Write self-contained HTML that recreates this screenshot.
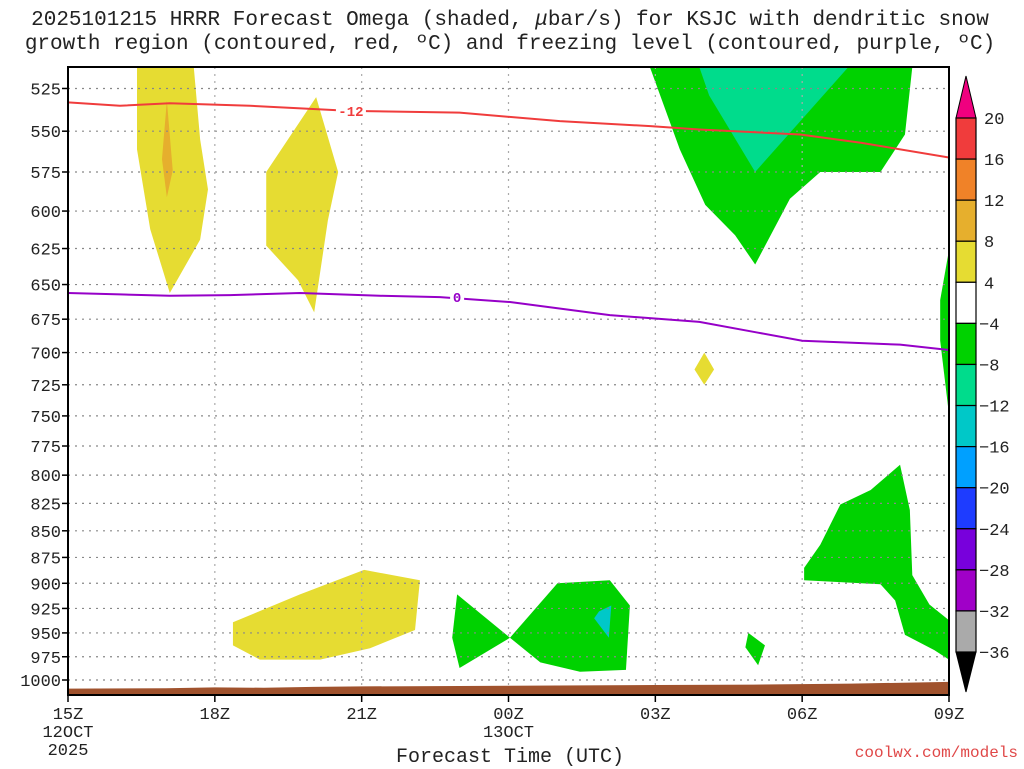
<!DOCTYPE html>
<html><head><meta charset="utf-8"><style>
body{margin:0;background:#fff;}
svg{display:block;font-family:"Liberation Mono","DejaVu Sans Mono",monospace;}
</style></head><body>
<svg id="c" width="1024" height="768" viewBox="0 0 1024 768"></svg>
<script>
const pLevels=[525,550,575,600,625,650,675,700,725,750,775,800,825,850,875,900,925,950,975,1000];
const xHours=[0,3,6,9,12,15,18];
const xLabels=["15Z","18Z","21Z","00Z","03Z","06Z","09Z"];
const cbLevels=[20,16,12,8,4,-4,-8,-12,-16,-20,-24,-28,-32,-36];
const cbColors=["#f03c3c","#f08228","#e6af2d","#e6dc32","#ffffff","#00d200","#00dc8c","#00c8c8","#00a0ff","#1e3cff","#7800dc","#a000c8","#aaaaaa"];
const yellowA=[[1.41,513],[2.57,513],[2.7,555],[2.86,586],[2.7,619],[2.08,656],[1.68,612],[1.41,561]];
const orangeA=[[2.02,532],[2.14,574],[2.02,591],[1.92,567]];
const yellowB=[[5.07,530],[5.52,575],[5.31,606],[5.03,670],[4.7,647],[4.05,623],[4.05,575]];
const yellowC=[[3.37,939],[3.37,963],[3.92,978],[5.15,978],[6.17,966],[7.09,947],[7.19,897],[6.05,887],[4.74,911]];
const yellowD=[[13.0,700],[13.2,713],[13.0,725],[12.8,713]];
const greenA=[[11.89,513],[17.25,513],[17.1,552],[16.6,575],[15.37,575],[14.75,592],[14.04,636],[13.63,616],[13.02,596],[12.5,561]];
const tealA=[[12.9,513],[15.94,513],[14.04,575],[13.1,529]];
const greenB=[[18,626],[17.82,661],[17.82,691],[18,749]];
const greenC=[[15.04,885],[15.37,863],[15.78,826],[16.4,813],[17.0,791],[17.2,831],[17.25,892],[17.6,921],[18,937],[18,978],[17.7,968],[17.1,952],[16.9,917],[16.6,901],[15.04,897]];
const greenD=[[7.95,911],[9.03,955],[8.0,987],[7.85,955]];
const greenE=[[9.03,955],[10.0,900],[11.07,897],[11.48,922],[11.4,989],[10.46,991],[9.65,981]];
const tealB=[[10.85,928],[11.1,922],[11.05,955],[10.75,935]];
const greenF=[[13.9,950],[14.24,963],[14.1,984],[13.84,965]];
const redLine=[[0,533],[1.06,535],[2.08,533.5],[3.72,535],[5.76,538],[8,539],[10.05,544],[11.9,547],[12.9,549],[14.96,552],[16.2,557],[18,566]];
const purpleLine=[[0,656],[1.06,657],[2.08,658],[3.31,657.5],[4.74,656],[6.37,658],[7.6,659],[9.03,662.5],[11.07,672],[12.9,677],[14.1,685],[15,691],[17,694],[18,698]];
const surfHours=[0,2,3,4,5,6,8,10,12,14,16,18];
const surfP=[1009.5,1009,1008,1008.5,1007.5,1007,1006.5,1006,1005.5,1005,1004,1002];

const X0=68,X1=949,Y0=67,Y1=695;
const xs=h=>X0+h*(X1-X0)/18;
const ys=p=>680-(Math.log(1000)-Math.log(p))*918;
const svg=document.getElementById('c');
const NS='http://www.w3.org/2000/svg';
function mk(t,a,parent){const e=document.createElementNS(NS,t);for(const k in a)e.setAttribute(k,a[k]);(parent||svg).appendChild(e);return e;}
function txt(s,a){const e=mk('text',a);e.textContent=s;return e;}
const clip=mk('clipPath',{id:'pc'});mk('rect',{x:X0,y:Y0,width:X1-X0,height:Y1-Y0},clip);
const g=mk('g',{'clip-path':'url(#pc)'});


function poly(pts,fill,name){const e=mk('polygon',{points:pts.map(q=>xs(q[0])+','+ys(q[1])).join(' '),fill:fill},g);

}
poly(yellowA,"#e6dc32","omega-yellow-a");
poly(orangeA,"#e6af2d","omega-orange-a");
poly(yellowB,"#e6dc32","omega-yellow-b");
poly(yellowC,"#e6dc32","omega-yellow-c");
poly(yellowD,"#e6dc32","omega-yellow-d");
poly(greenA,"#00d200","omega-green-a");
poly(tealA,"#00dc8c","omega-teal-a");
poly(greenB,"#00d200","omega-green-b");
poly(greenC,"#00d200","omega-green-c");
poly(greenD,"#00d200","omega-green-d");
poly(greenE,"#00d200","omega-green-e");
poly(tealB,"#00c8c8","omega-teal-b");
poly(greenF,"#00d200","omega-green-f");
pLevels.forEach(p=>{const l=mk('line',{x1:X0,x2:X1,y1:ys(p),y2:ys(p),stroke:'#888','stroke-dasharray':'2,5','stroke-width':1.2},g);

});
xHours.slice(1,-1).forEach(h=>{const l=mk('line',{x1:xs(h),x2:xs(h),y1:Y0,y2:Y1,stroke:'#aaa','stroke-dasharray':'2,5','stroke-width':1.2},g);

});
let sp='M'+xs(surfHours[0])+','+Y1;surfHours.forEach((h,i)=>sp+=' L'+xs(h)+','+ys(surfP[i]));sp+=' L'+xs(18)+','+Y1+' Z';
const terr=mk('path',{d:sp,fill:'#a0522d'},g);


function line(pts,col,name){const e=mk('polyline',{points:pts.map(q=>xs(q[0])+','+ys(q[1])).join(' '),fill:'none',stroke:col,'stroke-width':2},g);

}
line(redLine,'#f03c3c','dgz-contour-minus12');
line(purpleLine,'#9600c8','freezing-contour-0');
mk('rect',{x:xs(5.76)-14,y:ys(538)-8,width:30,height:16,fill:'#fff'},g);
const l1=txt('-12',{x:xs(5.76)+1,y:ys(538)+5,'text-anchor':'middle','font-size':14,'font-weight':'bold',fill:'#f03c3c'});


mk('rect',{x:xs(7.95)-7,y:ys(659)-8,width:14,height:16,fill:'#fff'},g);
const l2=txt('0',{x:xs(7.95),y:ys(659)+5,'text-anchor':'middle','font-size':14,'font-weight':'bold',fill:'#9600c8'});


const fr=mk('rect',{x:X0,y:Y0,width:X1-X0,height:Y1-Y0,fill:'none',stroke:'#000','stroke-width':2});


pLevels.forEach(p=>{mk('line',{x1:X0-6,x2:X0,y1:ys(p),y2:ys(p),stroke:'#000','stroke-width':1.5});
const t=txt(String(p),{x:X0-7,y:ys(p)+6,'text-anchor':'end','font-size':17,fill:'#222'});

});
xHours.forEach((h,i)=>{mk('line',{x1:xs(h),x2:xs(h),y1:Y1,y2:Y1+7,stroke:'#000','stroke-width':1.5});
const t=txt(xLabels[i],{x:xs(h),y:719,'text-anchor':'middle','font-size':17,fill:'#222'});

});
txt('12OCT',{x:xs(0),y:737,'text-anchor':'middle','font-size':17,fill:'#222'});
txt('2025',{x:xs(0),y:755,'text-anchor':'middle','font-size':17,fill:'#222'});
txt('13OCT',{x:xs(9),y:737,'text-anchor':'middle','font-size':17,fill:'#222'});
const CX=956,CW=20,CT=118,CS=(652-118)/13;
mk('polygon',{points:`${CX},${CT} ${CX+CW},${CT} ${CX+CW/2},76`,fill:'#f0007f',stroke:'#000'});
cbColors.forEach((c,i)=>{const r=mk('rect',{x:CX,y:CT+i*CS,width:CW,height:CS,fill:c,stroke:'#000','stroke-width':1.2});

});
mk('polygon',{points:`${CX},652 ${CX+CW},652 ${CX+CW/2},692`,fill:'#000',stroke:'#000'});
cbLevels.forEach((v,i)=>{const t=txt(String(v).replace('-','\u2212'),{x:v<0?979:984,y:CT+i*CS+6,'font-size':17,fill:'#222'});

});
</script>
<div style="position:absolute;left:0;top:0;width:1024px;pointer-events:none;font-family:'Liberation Mono','DejaVu Sans Mono',monospace;">
<div style="position:absolute;left:0;width:1020px;top:9px;text-align:center;font-size:21px;line-height:24px;color:#222;white-space:nowrap;">2025101215 HRRR Forecast Omega (shaded, <i>μ</i>bar/s) for KSJC with dendritic snow<br>growth region (contoured, red, ºC) and freezing level (contoured, purple, ºC)</div>
<div style="position:absolute;left:310px;width:400px;top:746px;text-align:center;font-size:20px;color:#222;">Forecast Time (UTC)</div>
<div style="position:absolute;left:800px;width:218px;top:744px;text-align:right;font-size:16px;color:#e04848;">coolwx.com/models</div>
</div>
</body></html>
